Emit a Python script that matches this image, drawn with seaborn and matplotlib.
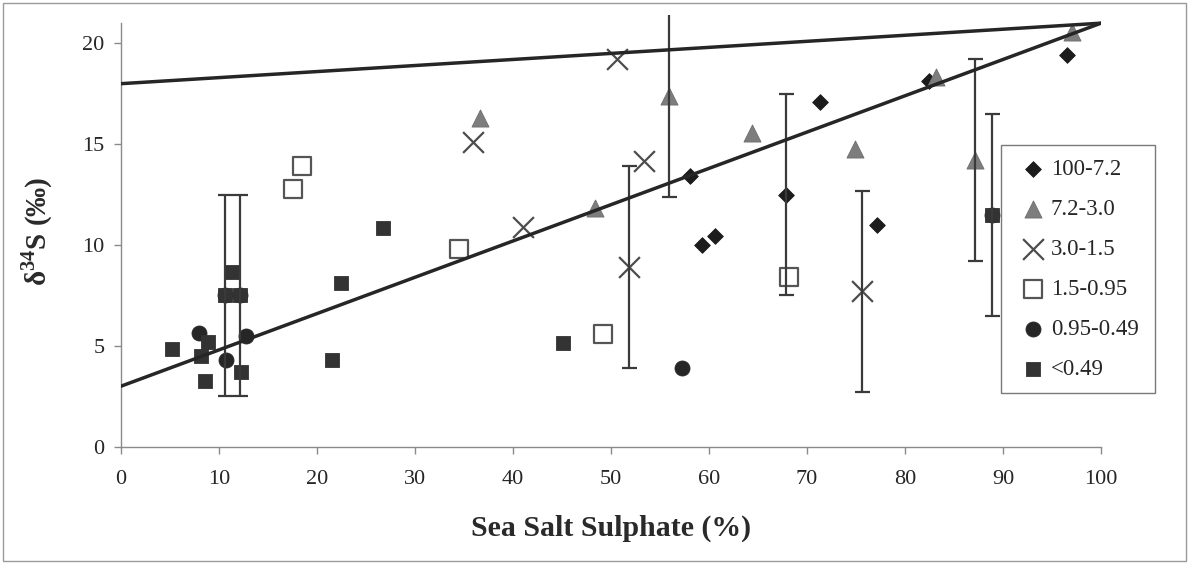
import matplotlib
matplotlib.use("Agg")
import matplotlib.pyplot as plt
import seaborn as sns
from matplotlib.patches import Rectangle

# Particle size classes (µm)
labels = ["100-7.2", "7.2-3.0", "3.0-1.5", "1.5-0.95", "0.95-0.49", "<0.49"]

# Sea-salt sulphate fraction (%) and delta-34S (permil) per size class
x_100_72 = [58.1, 59.3, 60.6, 67.9, 71.3, 77.1, 82.4, 96.5]
y_100_72 = [13.4, 10.0, 10.45, 12.5, 17.1, 11.0, 18.15, 19.4]

x_72_30 = [36.6, 48.4, 55.9, 64.4, 74.9, 83.2, 87.1, 97.0]
y_72_30 = [16.3, 11.85, 17.4, 15.55, 14.75, 18.35, 14.2, 20.55]

x_30_15 = [35.9, 41.0, 50.6, 51.8, 53.4, 75.6]
y_30_15 = [15.1, 10.9, 19.2, 8.9, 14.15, 7.7]

x_15_095 = [17.5, 18.5, 34.5, 49.2, 68.2]
y_15_095 = [12.8, 13.9, 9.8, 5.6, 8.4]

x_095_049 = [8.0, 10.6, 10.7, 12.1, 12.8, 57.2, 88.9]
y_095_049 = [5.65, 7.5, 4.3, 7.5, 5.5, 3.9, 11.5]

x_lt049 = [5.2, 8.2, 8.6, 8.9, 10.6, 11.3, 12.1, 12.2, 21.5, 22.4, 26.7, 45.1, 88.9]
y_lt049 = [4.85, 4.5, 3.25, 5.2, 7.5, 8.65, 7.5, 3.7, 4.3, 8.1, 10.85, 5.15, 11.5]

# Points carrying +/- uncertainty bars
err_x = [10.6, 12.1, 51.8, 55.9, 67.9, 75.6, 87.1, 88.9]
err_y = [7.5, 7.5, 8.9, 17.4, 12.5, 7.7, 14.2, 11.5]
err_size = [5, 5, 5, 5, 5, 5, 5, 5]

# Mixing lines between end-members
mix_x = [0, 100]
mix_low_y = [3, 21]
mix_high_y = [18, 21]

xs = [x_100_72, x_72_30, x_30_15, x_15_095, x_095_049, x_lt049]
ys = [y_100_72, y_72_30, y_30_15, y_15_095, y_095_049, y_lt049]

styles = [
    dict(marker="D", s=8.0 ** 2, color="#1c1c1c", edgecolor="#1c1c1c", linewidth=0.6),
    dict(marker="^", s=12.3 ** 2, color="#7d7d7d", edgecolor="#6e6e6e", linewidth=0.6),
    dict(marker="x", s=15 ** 2, color="#4d4d4d", linewidth=1.6),
    dict(marker="s", s=13 ** 2, color="#555555", facecolor="white", edgecolor="#555555", linewidth=1.6),
    dict(marker="o", s=10.8 ** 2, color="#262626", edgecolor="#262626", linewidth=0.6),
    dict(marker="s", s=10.5 ** 2, color="#333333", edgecolor="#333333", linewidth=0.6),
]

sns.set_theme(style="ticks")
plt.rcParams["font.family"] = ["Liberation Serif", "DejaVu Serif"]
plt.rcParams["mathtext.fontset"] = "custom"
plt.rcParams["mathtext.rm"] = "Liberation Serif"
plt.rcParams["mathtext.bf"] = "Liberation Serif:bold"

W, H = 1189, 564
fig = plt.figure(figsize=(W / 100, H / 100), dpi=100)
fig.patch.set_facecolor("white")
ax = fig.add_axes([121 / W, 117.3 / H, 980 / W, 431.6 / H])

for xv, yv, lab, st in zip(xs, ys, labels, styles):
    sns.scatterplot(x=xv, y=yv, ax=ax, label=lab, zorder=3, **st)

ax.errorbar(err_x, err_y, yerr=err_size, fmt="none", ecolor="#3a3a3a",
            elinewidth=1.6, capsize=5.4, capthick=1.6, zorder=4)

sns.lineplot(x=mix_x, y=mix_low_y, ax=ax, color="#262626", linewidth=2.5, zorder=5)
sns.lineplot(x=mix_x, y=mix_high_y, ax=ax, color="#262626", linewidth=2.5, zorder=5)

ax.set_xlim(0, 100)
ax.set_ylim(0, 21.4)
ax.set_xticks(range(0, 101, 10))
ax.set_yticks(range(0, 21, 5))

for side in ("top", "right"):
    ax.spines[side].set_visible(False)
for side in ("left", "bottom"):
    ax.spines[side].set_color("#8a8a8a")
    ax.spines[side].set_linewidth(1.0)
ax.spines["left"].set_bounds(0, 21)

ax.tick_params(axis="both", direction="out", length=5, width=1, colors="#8a8a8a",
               labelcolor="#262626", labelsize=16)
ax.tick_params(axis="x", pad=11.5)
ax.tick_params(axis="y", pad=7)

ax.set_xlabel("Sea Salt Sulphate (%)", fontsize=21.5, fontweight="bold", color="#2a2a2a")
ax.xaxis.set_label_coords(0.5, -0.19)
ax.xaxis.label.set_verticalalignment("center")

ax.set_ylabel(r"δ$^{\mathbf{34}}$S (‰)", fontsize=21, fontweight="bold", color="#2a2a2a")
ax.yaxis.set_label_coords(-0.0857, 0.5)
ax.yaxis.label.set_verticalalignment("center")

# legend box drawn as its own rectangle, entries placed inside it
ax.add_patch(Rectangle((1001 / W, 1 - 393 / H), 154 / W, 248 / H,
                       transform=fig.transFigure, facecolor="white",
                       edgecolor="#7a7a7a", linewidth=1.0, zorder=6, clip_on=False))

fs_leg = 16.5
leg = ax.legend(loc="upper left", bbox_to_anchor=(1022 / W, 1 - 159 / H),
                bbox_transform=fig.transFigure, frameon=False,
                fontsize=fs_leg, labelspacing=0.83, handletextpad=0.26, handlelength=1.0,
                borderpad=0, borderaxespad=0, markerscale=1.0)
leg.set_zorder(10)
for t in leg.get_texts():
    t.set_color("#262626")

fig.patches.append(Rectangle((3 / W, 3 / H), (W - 6) / W, (H - 6) / H,
                             transform=fig.transFigure, fill=False,
                             edgecolor="#9a9a9a", linewidth=1.0))

fig.savefig("out.png", dpi=100)
